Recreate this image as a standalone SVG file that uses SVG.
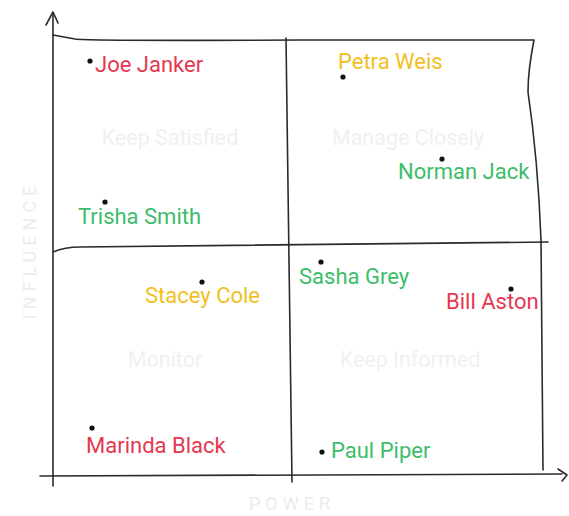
<svg xmlns="http://www.w3.org/2000/svg" width="569" height="516" viewBox="0 0 569 516">
<style>
.ln{fill:none;stroke:#2a2a2a;stroke-width:1.6;stroke-linecap:round;stroke-linejoin:round}
.nm{font-family:Roboto,"Liberation Sans",sans-serif;font-size:22px}
.red{fill:#e5384f}.yel{fill:#f0c020}.grn{fill:#3dbd6a}
.dot{fill:#111}
.faint{font-family:Roboto,"Liberation Sans",sans-serif;font-size:21.5px;fill:#f0f0f0;text-anchor:middle}
.axis{font-family:Roboto,"Liberation Sans",sans-serif;font-size:18px;fill:#ececec;text-anchor:middle;letter-spacing:5px}
</style>
<rect width="569" height="516" fill="#fff"/>
<g id="grid">
<path class="ln" d="M53,13 L53,486"/>
<path class="ln" d="M46,25 L53,12 L58,23"/>
<path class="ln" d="M53,35 L75,39 Q90,41 300,40 L534,40 Q528,70 528,92 Q538,160 541,240 L543,470"/>
<path class="ln" d="M53,252 Q65,247 80,247 L548,242"/>
<path class="ln" d="M40,476 L562,474"/>
<path class="ln" d="M558,469 L567,475 L562,481"/>
<path class="ln" d="M286,38 Q288,250 292,482"/>
</g>
<g id="labels">
<text class="faint" x="170" y="145">Keep Satisfied</text>
<text class="faint" x="408" y="145">Manage Closely</text>
<text class="faint" x="165" y="367">Monitor</text>
<text class="faint" x="410" y="367">Keep Informed</text>
<text class="axis" transform="translate(36,250) rotate(-90)">INFLUENCE</text>
<text class="axis" x="292" y="510">POWER</text>
</g>
<g id="joe"><circle class="dot" cx="90" cy="61" r="2.6"/><text class="nm red" x="95" y="72">Joe Janker</text></g>
<g id="petra"><circle class="dot" cx="343" cy="77" r="2.6"/><text class="nm yel" x="338" y="69">Petra Weis</text></g>
<g id="norman"><circle class="dot" cx="442" cy="159" r="2.6"/><text class="nm grn" x="398" y="179">Norman Jack</text></g>
<g id="trisha"><circle class="dot" cx="105" cy="202" r="2.6"/><text class="nm grn" x="78" y="224">Trisha Smith</text></g>
<g id="stacey"><circle class="dot" cx="202" cy="282" r="2.6"/><text class="nm yel" x="145" y="303">Stacey Cole</text></g>
<g id="sasha"><circle class="dot" cx="321" cy="262" r="2.6"/><text class="nm grn" x="299" y="284">Sasha Grey</text></g>
<g id="bill"><circle class="dot" cx="511" cy="289" r="2.6"/><text class="nm red" x="446" y="309">Bill Aston</text></g>
<g id="marinda"><circle class="dot" cx="92" cy="428" r="2.6"/><text class="nm red" x="86" y="453">Marinda Black</text></g>
<g id="paul"><circle class="dot" cx="322" cy="452" r="2.6"/><text class="nm grn" x="331" y="458">Paul Piper</text></g>
</svg>
